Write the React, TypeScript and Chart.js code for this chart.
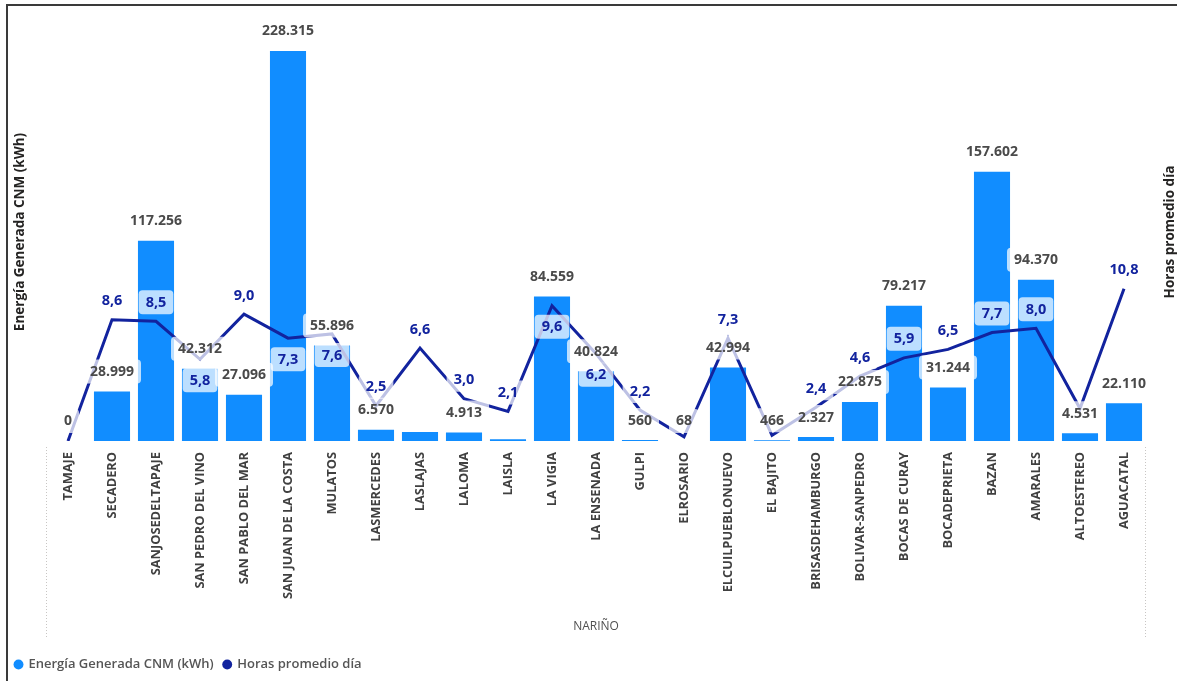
import React, { useEffect, useRef } from 'react';
import { Chart, registerables } from 'chart.js';

Chart.register(...registerables);

const categories = [
  'TAMAJE', 'SECADERO', 'SANJOSEDELTAPAJE', 'SAN PEDRO DEL VINO', 'SAN PABLO DEL MAR',
  'SAN JUAN DE LA COSTA', 'MULATOS', 'LASMERCEDES', 'LASLAJAS', 'LALOMA', 'LAISLA',
  'LA VIGIA', 'LA ENSENADA', 'GULPI', 'ELROSARIO', 'ELCUILPUEBLONUEVO', 'EL BAJITO',
  'BRISASDEHAMBURGO', 'BOLIVAR-SANPEDRO', 'BOCAS DE CURAY', 'BOCADEPRIETA', 'BAZAN',
  'AMARALES', 'ALTOESTEREO', 'AGUACATAL',
];

const energia = [
  0, 28999, 117256, 42312, 27096, 228315, 55896, 6570, 5300, 4913, 1000, 84559, 40824,
  560, 68, 42994, 466, 2327, 22875, 79217, 31244, 157602, 94370, 4531, 22110,
];

const horas = [
  0, 8.6, 8.5, 5.8, 9.0, 7.3, 7.6, 2.5, 6.6, 3.0, 2.1, 9.6, 6.2, 2.2, 0.3, 7.3, 0.4,
  2.4, 4.6, 5.9, 6.5, 7.7, 8.0, 2.3, 10.8,
];

// label visibility / placement (indices)
const barLabelHidden = [8, 10];
const lineLabelHidden = [0, 14, 16, 23];
const lineLabelBelow = [3, 5, 6, 11, 12];

const FONT = "'Segoe UI', 'Open Sans', sans-serif";
const BAR_COLOR = '#118DFF';
const LINE_COLOR = '#12239E';

const fmtThousands = (v: number) => String(Math.round(v)).replace(/\B(?=(\d{3})+(?!\d))/g, '.');
const fmtDecimal = (v: number) => v.toFixed(1).replace('.', ',');

function drawLabel(ctx: CanvasRenderingContext2D, text: string, cx: number, cy: number, color: string, font: string) {
  ctx.font = font;
  const w = ctx.measureText(text).width + 14;
  const h = 24;
  ctx.fillStyle = 'rgba(255,255,255,0.72)';
  ctx.beginPath();
  (ctx as any).roundRect(cx - w / 2, cy - h / 2, w, h, 4);
  ctx.fill();
  ctx.fillStyle = color;
  ctx.textAlign = 'center';
  ctx.textBaseline = 'middle';
  ctx.fillText(text, cx, cy + 0.5);
}

const labelPlugin = {
  id: 'pbiLabels',
  afterDatasetsDraw(chart: any) {
    const ctx: CanvasRenderingContext2D = chart.ctx;
    const barMeta = chart.getDatasetMeta(0);
    const lineMeta = chart.getDatasetMeta(1);
    ctx.save();
    barMeta.data.forEach((el: any, i: number) => {
      if (barLabelHidden.includes(i)) return;
      drawLabel(ctx, fmtThousands(energia[i]), el.x, el.y - 20, '#4a4a4a', `bold 14px ${FONT}`);
    });
    lineMeta.data.forEach((el: any, i: number) => {
      if (lineLabelHidden.includes(i)) return;
      const below = lineLabelBelow.includes(i);
      drawLabel(ctx, fmtDecimal(horas[i]), el.x, below ? el.y + 21 : el.y - 19, LINE_COLOR, `bold 14.5px ${FONT}`);
    });
    ctx.restore();
  },
  afterDraw(chart: any) {
    const ctx: CanvasRenderingContext2D = chart.ctx;
    const area = chart.chartArea;
    ctx.save();
    ctx.strokeStyle = '#c8c6c4';
    ctx.lineWidth = 1;
    ctx.setLineDash([1, 2]);
    [area.left + 0.5, area.right - 0.5].forEach((x) => {
      ctx.beginPath();
      ctx.moveTo(x, area.bottom + 6);
      ctx.lineTo(x, 638);
      ctx.stroke();
    });
    ctx.setLineDash([]);
    ctx.fillStyle = '#252423';
    ctx.font = `bold 13.5px ${FONT}`;
    ctx.textAlign = 'center';
    ctx.textBaseline = 'middle';
    const midY = 232;
    ctx.save();
    ctx.translate(20, midY);
    ctx.rotate(-Math.PI / 2);
    ctx.fillText('Energía Generada CNM (kWh)', 0, 0);
    ctx.restore();
    ctx.save();
    ctx.translate(1170, midY);
    ctx.rotate(-Math.PI / 2);
    ctx.fillText('Horas promedio día', 0, 0);
    ctx.restore();
    ctx.restore();
  },
};

export default function App() {
  const canvasRef = useRef<HTMLCanvasElement | null>(null);

  useEffect(() => {
    if (!canvasRef.current) return;
    const chart = new Chart(canvasRef.current, {
      type: 'bar',
      data: {
        labels: categories,
        datasets: [
          {
            type: 'bar',
            label: 'Energía Generada CNM (kWh)',
            data: energia,
            backgroundColor: BAR_COLOR,
            yAxisID: 'y',
            order: 1,
            barPercentage: 0.82,
            categoryPercentage: 1,
          } as any,
          {
            type: 'line',
            label: 'Horas promedio día',
            data: horas,
            borderColor: LINE_COLOR,
            backgroundColor: LINE_COLOR,
            borderWidth: 3,
            pointRadius: 0,
            tension: 0,
            yAxisID: 'y1',
            order: 0,
          } as any,
        ],
      },
      options: {
        responsive: false,
        maintainAspectRatio: false,
        animation: false,
        devicePixelRatio: 1,
        layout: { padding: { left: 5, right: 31, top: 31, bottom: 0 } },
        plugins: {
          tooltip: { enabled: false },
          legend: {
            display: true,
            position: 'bottom',
            align: 'start',
            labels: {
              usePointStyle: true,
              pointStyle: 'circle',
              boxWidth: 7,
              boxHeight: 7,
              padding: 10,
              color: '#555555',
              font: { family: FONT, size: 13, weight: '600' },
              sort: (a: any, b: any) => a.datasetIndex - b.datasetIndex,
              generateLabels: (c: any) =>
                (Chart.defaults.plugins.legend.labels as any)
                  .generateLabels(c)
                  .map((l: any) => ({ ...l, lineWidth: 0, strokeStyle: 'rgba(0,0,0,0)' })),
            },
          },
        },
        scales: {
          x: {
            grid: { display: false, drawTicks: false },
            border: { display: false },
            ticks: {
              autoSkip: false,
              minRotation: 90,
              maxRotation: 90,
              padding: 11,
              color: '#404040',
              font: { family: FONT, size: 12.8, weight: 'bold' },
            },
            title: {
              display: true,
              text: 'NARIÑO',
              color: '#505050',
              font: { family: FONT, size: 12 },
              padding: { top: 0, bottom: 14 },
            },
            afterFit: (s: any) => {
              s.height = 207;
            },
          },
          y: {
            position: 'left',
            min: 0,
            max: 240000,
            grid: { display: false, drawTicks: false },
            border: { display: false },
            ticks: { display: false },
            afterFit: (s: any) => {
              s.width = 41;
            },
          },
          y1: {
            position: 'right',
            display: false,
            min: 0,
            max: 29.1,
            grid: { display: false },
          },
        },
      } as any,
      plugins: [labelPlugin],
    });
    return () => chart.destroy();
  }, []);

  return (
    <div style={{ position: 'absolute', left: 0, top: 0, width: 1177, height: 681, background: '#ffffff', overflow: 'hidden' }}>
      <canvas ref={canvasRef} width={1177} height={681} style={{ position: 'absolute', left: 0, top: 0, display: 'block' }} />
      <div style={{ position: 'absolute', left: 6, top: 4, width: 1171, height: 2, background: '#3a3a3a' }} />
      <div style={{ position: 'absolute', left: 6, top: 4, width: 2, height: 677, background: '#3a3a3a' }} />
    </div>
  );
}
